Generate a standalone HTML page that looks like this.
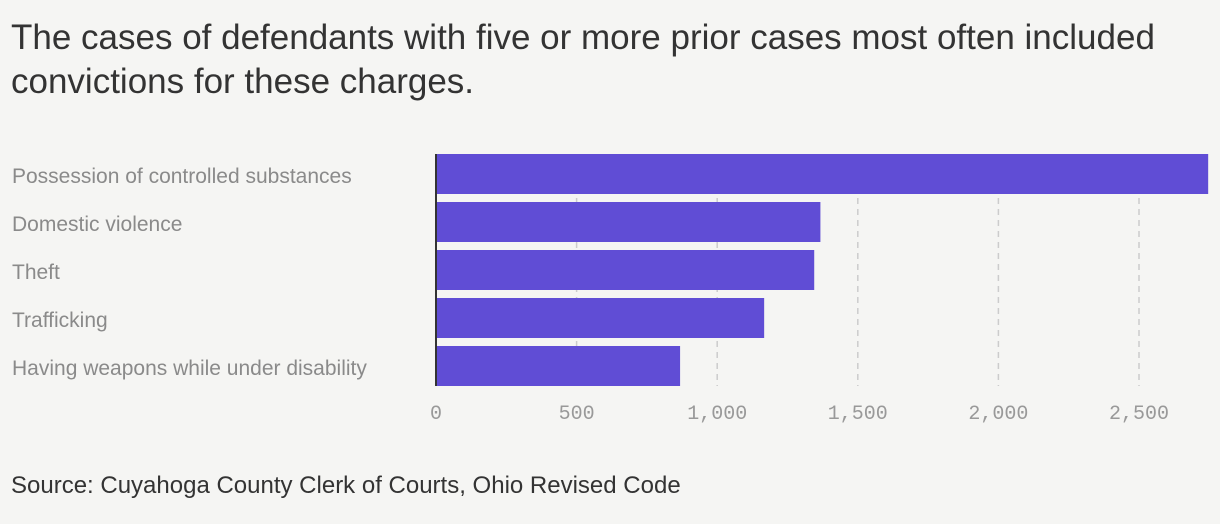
<!DOCTYPE html>
<html><head><meta charset="utf-8"><style>
body{margin:0;background:#f5f5f3;width:1220px;height:524px;overflow:hidden;font-family:"Liberation Sans",sans-serif}
h1{position:absolute;left:11px;top:16px;margin:0;font-weight:400;font-size:35px;line-height:44px;color:#333;width:1200px}
.src{position:absolute;left:11px;top:472px;font-size:24px;color:#333}
svg{position:absolute;left:0;top:0}
</style></head><body>
<h1>The cases of defendants with five or more prior cases most often included convictions for these charges.</h1>
<svg id="c" width="1220" height="524"></svg>
<div class="src">Source: Cuyahoga County Clerk of Courts, Ohio Revised Code</div>
<script>
const categories=["Possession of controlled substances","Domestic violence","Theft","Trafficking","Having weapons while under disability"];
const values=[2746,1367,1345,1167,868];
const ticks=[0,500,1000,1500,2000,2500];
const tickLabels=["0","500","1,000","1,500","2,000","2,500"];
const NS="http://www.w3.org/2000/svg",svg=document.getElementById('c');
const x=v=>436+v*0.2812;
const y=i=>154+i*48;
function mk(t,a){const e=document.createElementNS(NS,t);for(const k in a)e.setAttribute(k,a[k]);svg.appendChild(e);return e;}
ticks.forEach((t,i)=>{
 if(t>0){const l=mk('line',{x1:x(t),x2:x(t),y1:154,y2:386,stroke:'#ccc','stroke-width':1.5,'stroke-dasharray':'6,5'});
 
 }
 const tx=mk('text',{x:x(t),y:419,'text-anchor':'middle','font-family':'Liberation Mono, monospace','font-size':20,fill:'#999'});
 tx.textContent=tickLabels[i];
 
 
});
categories.forEach((c,i)=>{
 const r=mk('rect',{x:437,y:y(i),width:x(values[i])-437,height:40,fill:'#604dd5'});
 
 
 const t=mk('text',{x:12,y:y(i)+29,'font-size':21,fill:'#8a8a8a'});
 t.textContent=c;
 
 
});
const ax=mk('line',{x1:436,x2:436,y1:154,y2:386,stroke:'#333','stroke-width':2});


</script>
</body></html>
